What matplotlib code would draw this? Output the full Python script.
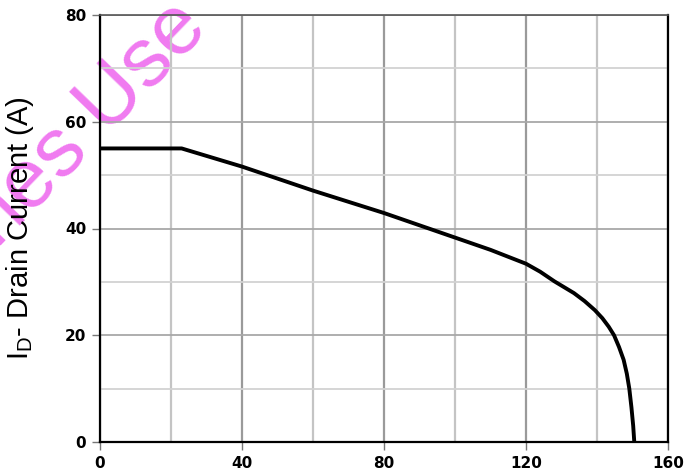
import matplotlib
matplotlib.use("Agg")
import matplotlib.pyplot as plt
from matplotlib.ticker import MultipleLocator

# Case temperature (C) vs. max continuous drain current (A)
TC = [0, 23, 40, 60, 80, 100, 110, 120, 124, 128, 133.5, 136.5, 139.4, 141.5,
      143.3, 144.8, 146.2, 147.5, 148.4, 149.1, 149.7, 150.2, 150.5]
ID = [55, 55, 51.6, 47.1, 42.9, 38.3, 36.0, 33.4, 31.9, 30.1, 27.9, 26.4, 24.7, 23.2,
      21.6, 20.0, 17.8, 15.4, 12.8, 10.0, 6.5, 3.0, 0]

X_TICKS = [0, 40, 80, 120, 160]
Y_TICKS = [0, 20, 40, 60, 80]
Y_LABEL = "I$_\\mathregular{D}$- Drain Current (A)"
WATERMARK = "nes Use"

plt.rcParams["font.family"] = ["Liberation Sans", "DejaVu Sans"]

fig = plt.figure(figsize=(7, 4.75), dpi=100)
ax = fig.add_axes([100 / 700, 1 - 442 / 475, 568 / 700, 427 / 475])
ax.patch.set_facecolor("none")

ax.set_xlim(0, 160)
ax.set_ylim(0, 80)
ax.set_xticks(X_TICKS)
ax.set_yticks(Y_TICKS)
ax.xaxis.set_minor_locator(MultipleLocator(20))
ax.yaxis.set_minor_locator(MultipleLocator(10))

ax.grid(axis="x", which="major", color="#9a9a9a", linewidth=1.6)
ax.grid(axis="x", which="minor", color="#c4c4c4", linewidth=1.6)
ax.grid(axis="y", which="major", color="#a8a8a8", linewidth=1.3)
ax.grid(axis="y", which="minor", color="#d2d2d2", linewidth=1.3)
ax.set_axisbelow(True)

ax.tick_params(which="major", direction="out", length=6, width=1, color="#777777", pad=4)
ax.tick_params(which="minor", length=0)
for lab in ax.get_xticklabels() + ax.get_yticklabels():
    lab.set_fontfamily("DejaVu Sans")
    lab.set_fontweight("bold")
    lab.set_fontsize(11)

for side in ("left", "bottom", "right"):
    ax.spines[side].set_color("black")
    ax.spines[side].set_linewidth(1.6)
ax.spines["top"].set_color("#555555")
ax.spines["top"].set_linewidth(1.2)

ax.plot(TC, ID, color="black", linewidth=2.8, solid_joinstyle="round",
        solid_capstyle="butt", clip_on=False, zorder=3)

ax.set_ylabel(Y_LABEL, fontsize=21)
ax.yaxis.set_label_coords(-0.112, 0.5)

# watermark sits under the axes artists
fig.text(88 / 700, 1 - 124 / 475, WATERMARK, color="#f07af0", fontsize=60,
         rotation=46, rotation_mode="anchor", ha="center", va="center", zorder=-1)

fig.savefig("out.png", dpi=100)
